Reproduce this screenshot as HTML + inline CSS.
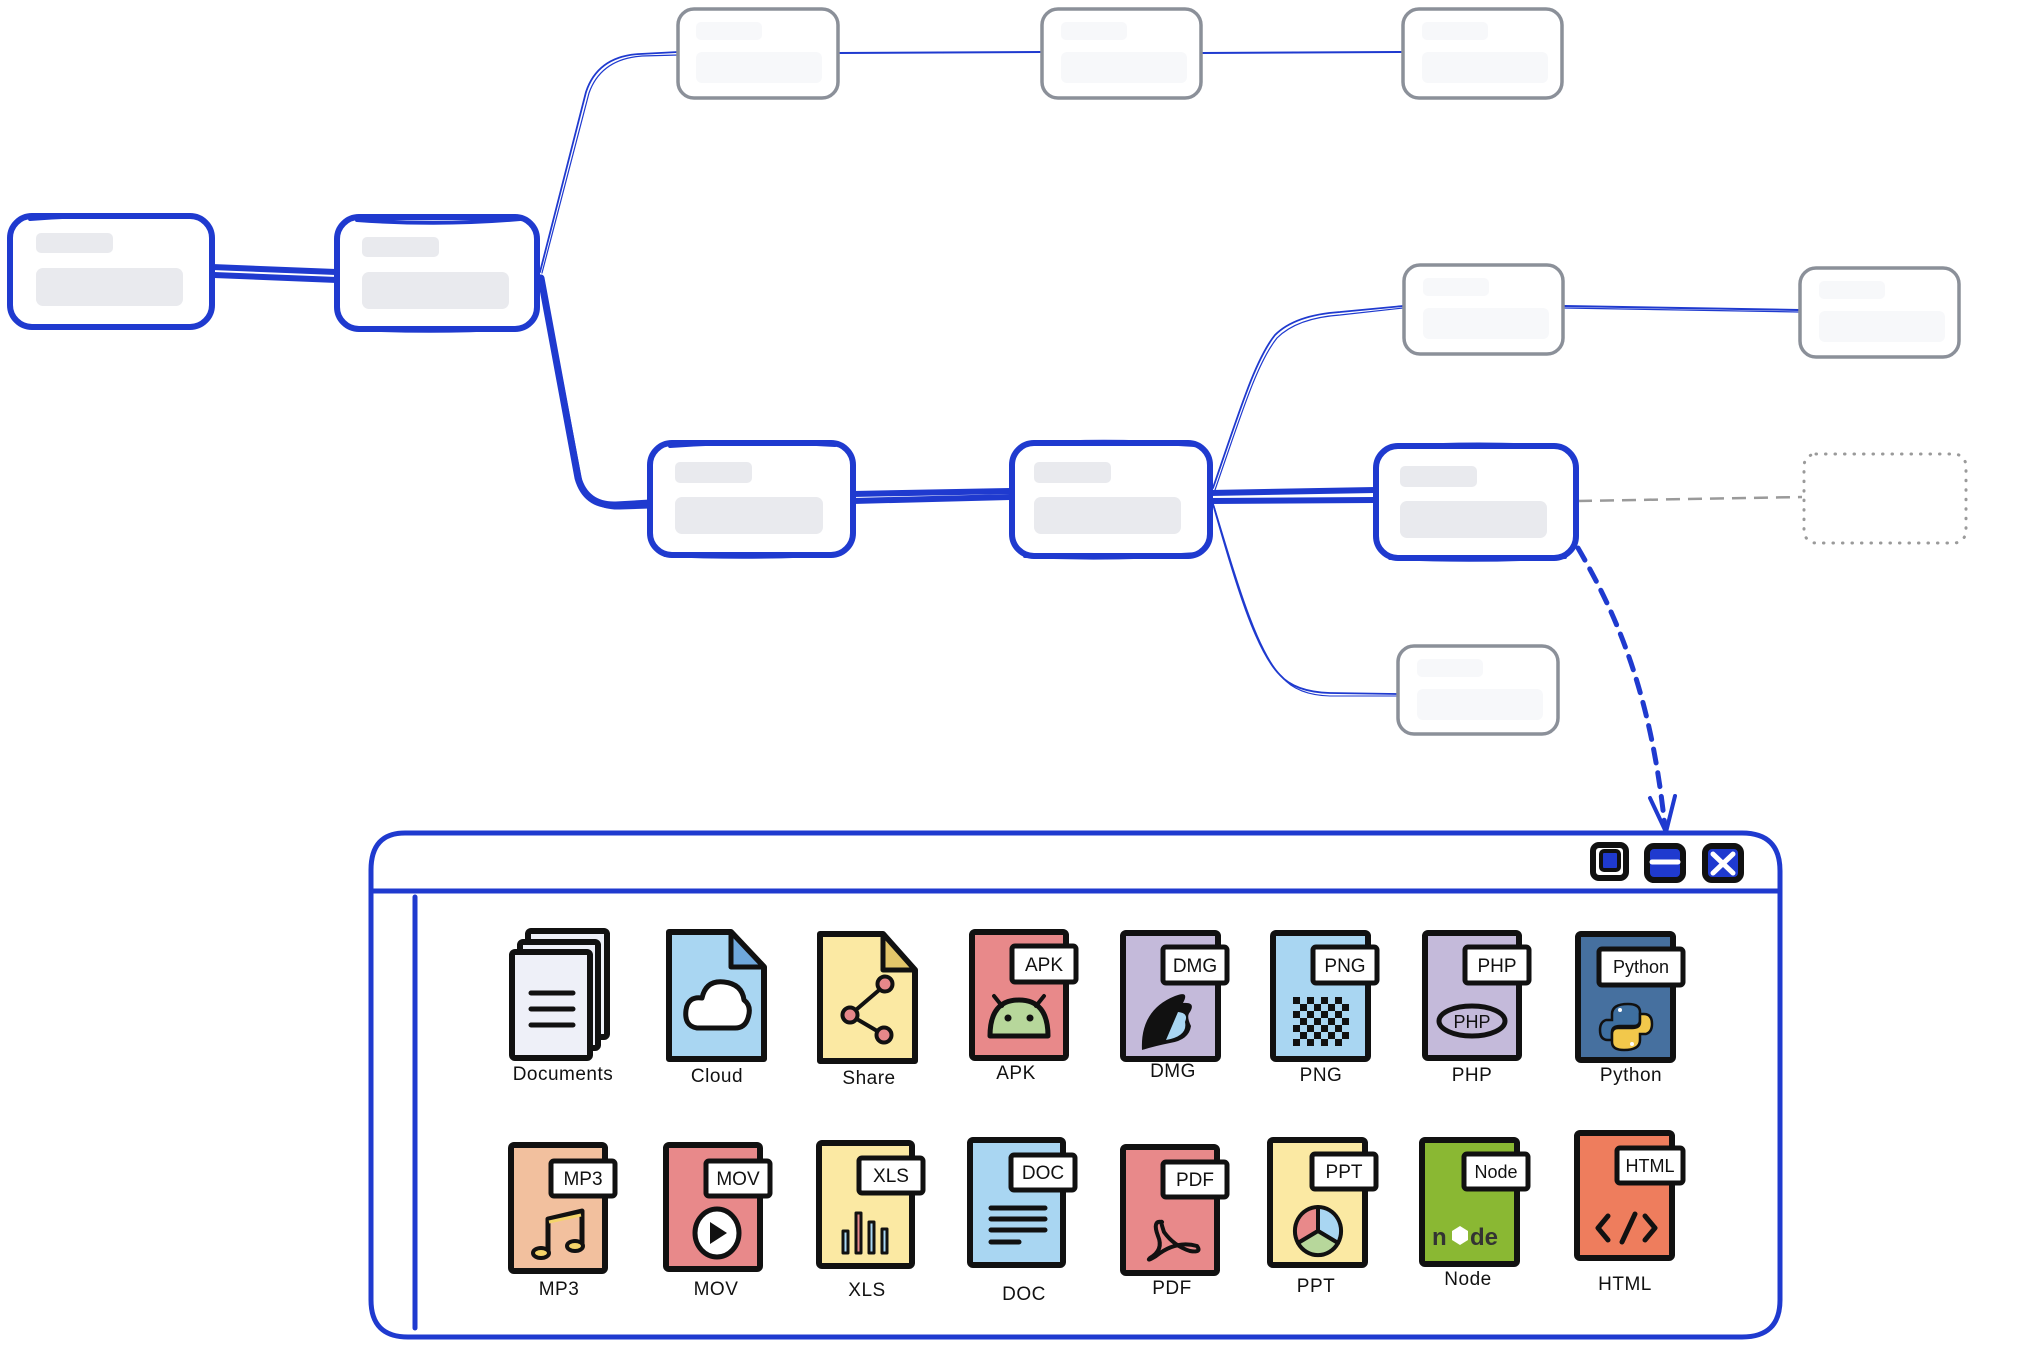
<!DOCTYPE html>
<html><head><meta charset="utf-8"><style>
html,body{margin:0;padding:0;background:#fff;}
svg{display:block;}
text{font-family:"Liberation Sans","DejaVu Sans",sans-serif;}
</style></head><body>
<svg width="2020" height="1370" viewBox="0 0 2020 1370" xmlns="http://www.w3.org/2000/svg">
<defs>
<pattern id="chk" x="1293" y="997" width="14" height="14" patternUnits="userSpaceOnUse"><rect width="7" height="7" fill="#111"/><rect x="7" y="7" width="7" height="7" fill="#111"/></pattern>
</defs>
<rect width="2020" height="1370" fill="#fff"/>

<!-- connectors -->
<g fill="none" stroke="#1f3acf" stroke-linecap="round" stroke-linejoin="round">
  <!-- N1 -> N2 thick -->
  <path d="M212 267 L336 272" stroke-width="6"/>
  <path d="M214 275 L337 280" stroke-width="6"/>
  <!-- N2 -> T1 thin double -->
  <path d="M540 272 L586 92 Q598 56 640 54 L678 52" stroke-width="1.8"/>
  <path d="M542 273 L589 93 Q601 59 642 56 L678 55" stroke-width="1.2"/>
  <!-- N2 -> M1 thick -->
  <path d="M541 278 L578 478 Q586 506 616 505 L650 503" stroke-width="7"/>
  <path d="M543 282 L581 482 Q590 509 620 508 L650 507" stroke-width="3"/>
  <!-- T1->T2, T2->T3 -->
  <path d="M839 53 L1041 52" stroke-width="2"/>
  <path d="M1202 53 L1402 52" stroke-width="2"/>
  <!-- M1 -> M2 -->
  <path d="M853 494 L1010 491" stroke-width="6"/>
  <path d="M853 501 L1010 497" stroke-width="6"/>
  <!-- M2 -> M3 -->
  <path d="M1210 493 L1375 490" stroke-width="6"/>
  <path d="M1210 501 L1375 500" stroke-width="6"/>
  <!-- M2 -> R1 -->
  <path d="M1213 488 C1240 410 1255 360 1275 335 Q1295 315 1340 312 L1403 306" stroke-width="1.8"/>
  <path d="M1215 490 C1242 412 1257 363 1277 338 Q1297 318 1340 315 L1403 308" stroke-width="1.2"/>
  <!-- M2 -> B1 -->
  <path d="M1213 504 C1235 580 1255 650 1280 675 Q1295 692 1330 693 L1397 694" stroke-width="1.8"/>
  <path d="M1214 506 C1237 582 1257 652 1282 677 Q1297 695 1330 696 L1397 696" stroke-width="1.1"/>
  <!-- R1 -> R2 -->
  <path d="M1564 306 L1799 310" stroke-width="2"/>
  <path d="M1564 308 L1799 312" stroke-width="1.2"/>
  <!-- dashed arrow -->
  <path d="M1578 548 C1620 620 1652 700 1665 828" stroke-width="5" stroke-dasharray="14 10"/>
  <path d="M1650 798 L1666 832 L1675 796" stroke-width="4"/>
</g>
<path d="M1578 501 L1802 497" fill="none" stroke="#9a9a9a" stroke-width="2.5" stroke-dasharray="14 8"/>
<rect x="1804" y="454" width="162" height="89" rx="12" fill="none" stroke="#9a9a9a" stroke-width="3" stroke-dasharray="0.5 9" stroke-linecap="round"/>

<!-- blue nodes -->
<g stroke="#1f3acf" fill="#fff" stroke-linecap="round">
  <rect x="10" y="216" width="202" height="111" rx="22" stroke-width="6"/>
  <path d="M30 219 Q110 213 190 217" fill="none" stroke-width="4"/>
  <rect x="337" y="217" width="200" height="112" rx="22" stroke-width="6"/>
  <path d="M357 220 Q440 226 520 219 M357 329 Q440 333 520 328" fill="none" stroke-width="4"/>
  <rect x="650" y="443" width="203" height="112" rx="22" stroke-width="6"/>
  <path d="M670 446 Q750 440 835 445 M665 555 Q750 559 840 554" fill="none" stroke-width="4"/>
  <rect x="1012" y="443" width="198" height="113" rx="22" stroke-width="6"/>
  <path d="M1030 444 Q1110 439 1195 445 M1025 556 Q1110 560 1198 554" fill="none" stroke-width="4"/>
  <rect x="1376" y="446" width="200" height="112" rx="22" stroke-width="6"/>
  <path d="M1395 447 Q1480 442 1560 447 M1390 558 Q1480 562 1565 557" fill="none" stroke-width="4"/>
</g>
<g fill="#e9eaee">
  <rect x="36" y="233" width="77" height="20" rx="5"/><rect x="36" y="268" width="147" height="38" rx="7"/>
  <rect x="362" y="237" width="77" height="20" rx="5"/><rect x="362" y="272" width="147" height="37" rx="7"/>
  <rect x="675" y="462" width="77" height="21" rx="5"/><rect x="675" y="497" width="148" height="37" rx="7"/>
  <rect x="1034" y="462" width="77" height="21" rx="5"/><rect x="1034" y="497" width="147" height="37" rx="7"/>
  <rect x="1400" y="466" width="77" height="21" rx="5"/><rect x="1400" y="501" width="147" height="37" rx="7"/>
</g>

<!-- gray nodes -->
<g stroke="#8b9099" stroke-width="3.5" fill="#fff">
  <rect x="678" y="9" width="160" height="89" rx="16"/>
  <rect x="1042" y="9" width="159" height="89" rx="16"/>
  <rect x="1403" y="9" width="159" height="89" rx="16"/>
  <rect x="1404" y="265" width="159" height="89" rx="16"/>
  <rect x="1800" y="268" width="159" height="89" rx="16"/>
  <rect x="1398" y="646" width="160" height="88" rx="16"/>
</g>
<g fill="#f7f8fa">
  <rect x="696" y="22" width="66" height="18" rx="5"/><rect x="696" y="52" width="126" height="31" rx="6"/>
  <rect x="1061" y="22" width="66" height="18" rx="5"/><rect x="1061" y="52" width="126" height="31" rx="6"/>
  <rect x="1422" y="22" width="66" height="18" rx="5"/><rect x="1422" y="52" width="126" height="31" rx="6"/>
  <rect x="1423" y="278" width="66" height="18" rx="5"/><rect x="1423" y="308" width="126" height="31" rx="6"/>
  <rect x="1819" y="281" width="66" height="18" rx="5"/><rect x="1819" y="311" width="126" height="31" rx="6"/>
  <rect x="1417" y="659" width="66" height="18" rx="5"/><rect x="1417" y="689" width="126" height="31" rx="6"/>
</g>

<!-- window frame -->
<g fill="none" stroke="#1f3acf" stroke-width="5" stroke-linecap="round">
  <path d="M405 833 L1742 833 Q1780 833 1780 871 L1780 1300 Q1780 1337 1742 1337 L408 1337 Q371 1337 371 1300 L371 870 Q371 833 405 833 Z"/>
  <path d="M371 891 L1780 891"/>
  <path d="M415 897 L415 1328"/>
</g>
<!-- window buttons -->
<g stroke="#111" stroke-linejoin="round">
  <rect x="1593" y="845" width="33" height="33" rx="6" fill="#fff" stroke-width="6"/>
  <rect x="1601" y="851" width="18" height="19" rx="3" fill="#1f3acf" stroke-width="4"/>
  <rect x="1647" y="846" width="36" height="34" rx="7" fill="#1f3acf" stroke-width="6"/>
  <rect x="1705" y="846" width="36" height="34" rx="7" fill="#1f3acf" stroke-width="6"/>
</g>
<path d="M1652 862 L1678 862" stroke="#fff" stroke-width="5" stroke-linecap="round"/>
<path d="M1713 854 L1733 873 M1733 854 L1713 873" stroke="#fff" stroke-width="5" stroke-linecap="round"/>

<!-- ICONS ROW 1 -->
<g stroke="#111" stroke-width="6" stroke-linejoin="round">
  <!-- Documents -->
  <rect x="528" y="931" width="79" height="106" rx="3" fill="#eef0f8"/>
  <rect x="520" y="942" width="78" height="106" rx="3" fill="#eef0f8"/>
  <rect x="512" y="952" width="78" height="106" rx="3" fill="#eef0f8"/>
  <path d="M531 993 L573 993 M531 1009 L573 1009 M531 1025 L573 1025" stroke-width="5" stroke-linecap="round"/>
  <!-- Cloud -->
  <path d="M669 932 L731 932 L764 967 L764 1059 L669 1059 Z" fill="#a9d6f2"/>
  <path d="M731 932 L731 967 L764 967 Z" fill="#6fa8dc" stroke-width="5"/>
  <path d="M697 1028 Q684 1026 686 1010 Q688 996 702 998 Q706 980 724 982 Q742 984 744 1000 Q752 1006 748 1018 Q745 1028 735 1028 Z" fill="#fff" stroke-width="5"/>
  <!-- Share -->
  <path d="M820 934 L883 934 L915 970 L915 1061 L820 1061 Z" fill="#fbe9a3"/>
  <path d="M883 934 L883 970 L915 970 Z" fill="#e3c66a" stroke-width="5"/>
  <path d="M850 1015 L885 985 M850 1015 L884 1035" stroke-width="4"/>
  <circle cx="885" cy="984" r="7.5" fill="#e6878a" stroke-width="4"/>
  <circle cx="850" cy="1015" r="7.5" fill="#e6878a" stroke-width="4"/>
  <circle cx="884" cy="1035" r="7.5" fill="#e6878a" stroke-width="4"/>
  <!-- APK -->
  <rect x="972" y="932" width="94" height="126" rx="3" fill="#e8898a"/>
  <rect x="1012" y="946" width="64" height="36" rx="3" fill="#fff" stroke-width="5"/>
  <path d="M990 1036 Q990 1000 1019 1000 Q1048 1000 1048 1036 Z" fill="#b7d79b" stroke-width="5"/>
  <path d="M994 996 L1002 1006 M1044 996 L1036 1006" stroke-width="4" stroke-linecap="round"/>
  <!-- DMG -->
  <rect x="1123" y="933" width="95" height="126" rx="3" fill="#c4bada"/>
  <rect x="1163" y="947" width="64" height="36" rx="3" fill="#fff" stroke-width="5"/>
  <!-- PNG -->
  <rect x="1273" y="933" width="95" height="126" rx="3" fill="#a9d6f2"/>
  <rect x="1313" y="947" width="64" height="36" rx="3" fill="#fff" stroke-width="5"/>
  <!-- PHP -->
  <rect x="1425" y="933" width="94" height="125" rx="3" fill="#c4bada"/>
  <rect x="1465" y="947" width="64" height="36" rx="3" fill="#fff" stroke-width="5"/>
  <ellipse cx="1472" cy="1021" rx="33" ry="15" fill="#c4bada" stroke-width="5"/>
  <!-- Python -->
  <rect x="1578" y="934" width="95" height="126" rx="3" fill="#46709f"/>
  <rect x="1599" y="949" width="84" height="36" rx="3" fill="#fff" stroke-width="5"/>
</g>
<circle cx="1008" cy="1018" r="3.5" fill="#111"/><circle cx="1030" cy="1018" r="3.5" fill="#111"/>
<path d="M1142 1050 Q1140 1010 1175 996 Q1190 990 1183 1003 Q1196 1002 1190 1012 Q1186 1016 1191 1026 Q1189 1040 1170 1043 Q1155 1046 1142 1050 Z" fill="#111"/>
<path d="M1166 1040 L1178 1012 Q1189 1013 1185 1022 Q1188 1036 1166 1040 Z" fill="#a9d6f2"/>
<rect x="1293" y="997" width="56" height="49" fill="url(#chk)"/>
<path d="M1628 1004 Q1612 1004 1612 1014 L1612 1020 L1606 1020 Q1600 1022 1600 1030 Q1600 1040 1608 1040 L1612 1040 L1612 1032 Q1612 1026 1620 1026 L1634 1026 Q1640 1026 1640 1020 L1640 1012 Q1640 1004 1628 1004 Z" fill="#3e6fa0" stroke="#111" stroke-width="2.5"/>
<path d="M1624 1050 Q1640 1050 1640 1040 L1640 1034 L1646 1034 Q1652 1032 1652 1024 Q1652 1014 1644 1014 L1640 1014 L1640 1022 Q1640 1028 1632 1028 L1618 1028 Q1612 1028 1612 1034 L1612 1042 Q1612 1050 1624 1050 Z" fill="#f2c84b" stroke="#111" stroke-width="2.5"/>
<circle cx="1620" cy="1010" r="2" fill="#fff"/><circle cx="1632" cy="1044" r="2" fill="#fff"/>

<g font-size="19" fill="#111" text-anchor="middle">
  <text x="1044" y="971">APK</text>
  <text x="1195" y="972">DMG</text>
  <text x="1345" y="972">PNG</text>
  <text x="1497" y="972">PHP</text>
  <text x="1641" y="973" font-size="18">Python</text>
  <text x="1472" y="1028" font-size="18">PHP</text>
</g>
<g font-size="19" fill="#111" text-anchor="middle" letter-spacing="0.5">
  <text x="563" y="1080">Documents</text>
  <text x="717" y="1082">Cloud</text>
  <text x="869" y="1084">Share</text>
  <text x="1016" y="1079">APK</text>
  <text x="1173" y="1077">DMG</text>
  <text x="1321" y="1081">PNG</text>
  <text x="1472" y="1081">PHP</text>
  <text x="1631" y="1081">Python</text>
</g>

<!-- ICONS ROW 2 -->
<g stroke="#111" stroke-width="6" stroke-linejoin="round">
  <!-- MP3 -->
  <rect x="511" y="1145" width="94" height="126" rx="3" fill="#f2c09e"/>
  <rect x="551" y="1161" width="64" height="35" rx="3" fill="#fff" stroke-width="5"/>
  <path d="M548 1252 L548 1219 L582 1211 L582 1245" fill="none" stroke-width="5"/>
  <path d="M549 1222 L581 1215" stroke="#f4d46a" stroke-width="3"/>
  <ellipse cx="541" cy="1253" rx="8" ry="5" fill="#f4d46a" stroke-width="4"/>
  <ellipse cx="575" cy="1246" rx="8" ry="5" fill="#f4d46a" stroke-width="4"/>
  <!-- MOV -->
  <rect x="666" y="1145" width="94" height="124" rx="3" fill="#e8898a"/>
  <rect x="706" y="1161" width="64" height="35" rx="3" fill="#fff" stroke-width="5"/>
  <ellipse cx="717" cy="1233" rx="22" ry="24" fill="#fff" stroke-width="5"/>
  <!-- XLS -->
  <rect x="819" y="1143" width="93" height="123" rx="3" fill="#fbe9a3"/>
  <rect x="859" y="1158" width="64" height="35" rx="3" fill="#fff" stroke-width="5"/>
  <rect x="843" y="1231" width="5" height="22" fill="#a9d6f2" stroke-width="3"/>
  <rect x="856" y="1213" width="5" height="40" fill="#e8898a" stroke-width="3"/>
  <rect x="869" y="1222" width="5" height="31" fill="#a9d6f2" stroke-width="3"/>
  <rect x="882" y="1229" width="5" height="24" fill="#a9d6f2" stroke-width="3"/>
  <!-- DOC -->
  <rect x="970" y="1140" width="93" height="125" rx="3" fill="#a9d6f2"/>
  <rect x="1011" y="1155" width="64" height="35" rx="3" fill="#fff" stroke-width="5"/>
  <path d="M991 1208 L1045 1208 M991 1219 L1045 1219 M991 1230 L1045 1230 M991 1242 L1019 1242" stroke-width="5" stroke-linecap="round"/>
  <!-- PDF -->
  <rect x="1123" y="1147" width="94" height="126" rx="3" fill="#e8898a"/>
  <rect x="1163" y="1162" width="64" height="35" rx="3" fill="#fff" stroke-width="5"/>
  <path d="M1162 1222 Q1152 1220 1158 1236 Q1164 1250 1150 1258 Q1146 1262 1156 1256 Q1176 1240 1197 1246 Q1202 1253 1190 1251 Q1174 1246 1164 1232 Q1160 1220 1162 1222 Z" fill="none" stroke-width="4"/>
  <!-- PPT -->
  <rect x="1270" y="1140" width="95" height="125" rx="3" fill="#fbe9a3"/>
  <rect x="1312" y="1154" width="64" height="35" rx="3" fill="#fff" stroke-width="5"/>
  <path d="M1318 1231 L1318 1207 A23 24 0 0 0 1298 1243 Z" fill="#e8898a" stroke-width="4"/>
  <path d="M1318 1231 L1318 1207 A23 24 0 0 1 1338 1243 Z" fill="#a9d6f2" stroke-width="4"/>
  <path d="M1318 1231 L1338 1243 A23 24 0 0 1 1298 1243 Z" fill="#b7d79b" stroke-width="4"/>
  <!-- Node -->
  <rect x="1422" y="1140" width="95" height="124" rx="3" fill="#8ab833"/>
  <rect x="1464" y="1154" width="64" height="35" rx="3" fill="#fff" stroke-width="5"/>
  <!-- HTML -->
  <rect x="1577" y="1133" width="95" height="125" rx="3" fill="#ee7d5d"/>
  <rect x="1617" y="1148" width="66" height="35" rx="3" fill="#fff" stroke-width="5"/>
  <path d="M1608 1216 L1598 1228 L1608 1240 M1635 1214 L1622 1242 M1645 1216 L1655 1228 L1645 1240" fill="none" stroke-width="5" stroke-linecap="round"/>
</g>
<path d="M710 1222 L710 1244 L727 1233 Z" fill="#111"/>
<g font-size="24" font-weight="bold" fill="#333">
  <text x="1432" y="1245">n</text>
  <text x="1470" y="1245">de</text>
</g>
<polygon points="1460,1226 1468,1231 1468,1240 1460,1245 1452,1240 1452,1231" fill="#fff"/>

<g font-size="19" fill="#111" text-anchor="middle">
  <text x="583" y="1185">MP3</text>
  <text x="738" y="1185">MOV</text>
  <text x="891" y="1182">XLS</text>
  <text x="1043" y="1179">DOC</text>
  <text x="1195" y="1186">PDF</text>
  <text x="1344" y="1178">PPT</text>
  <text x="1496" y="1178" font-size="18">Node</text>
  <text x="1650" y="1172" font-size="18">HTML</text>
</g>
<g font-size="19" fill="#111" text-anchor="middle" letter-spacing="0.5">
  <text x="559" y="1295">MP3</text>
  <text x="716" y="1295">MOV</text>
  <text x="867" y="1296">XLS</text>
  <text x="1024" y="1300">DOC</text>
  <text x="1172" y="1294">PDF</text>
  <text x="1316" y="1292">PPT</text>
  <text x="1468" y="1285">Node</text>
  <text x="1625" y="1290">HTML</text>
</g>
</svg>
</body></html>
